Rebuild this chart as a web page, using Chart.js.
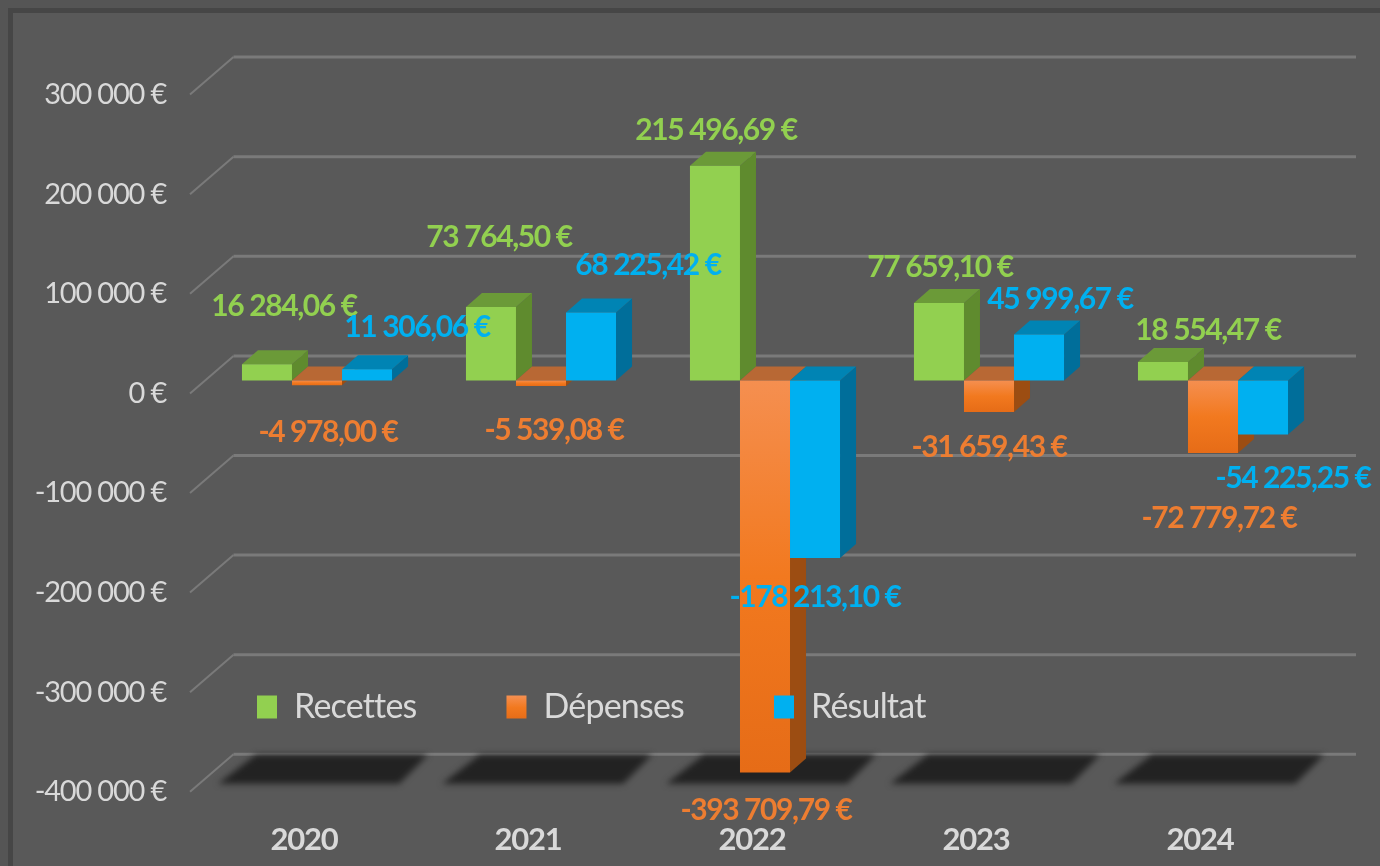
<!DOCTYPE html>
<html><head><meta charset="utf-8">
<style>html,body{margin:0;padding:0;background:#595959;overflow:hidden}canvas{display:block;filter:blur(0.6px)}</style>
<script src="https://cdn.jsdelivr.net/npm/chart.js@4"></script>
</head><body>
<canvas id="c" width="1380" height="866"></canvas>
<script>
const years = ['2020','2021','2022','2023','2024'];
const recettes = [16284.06, 73764.50, 215496.69, 77659.10, 18554.47];
const depenses = [-4978.00, -5539.08, -393709.79, -31659.43, -72779.72];
const resultat = [11306.06, 68225.42, -178213.10, 45999.67, -54225.25];
const seriesNames = ['Recettes','Dépenses','Résultat'];

// label placement relative to the bar tip
const labelNudge = [
  [[17,-58],[8,-70],[1,-35],[1,-36],[45,-32]],
  [[11,47],[13,44],[1,38],[0,35],[6,65]],
  [[50,-42],[57,-47],[0,39],[21,-35],[30,44]]
];
const FONT = 'Lato, "Open Sans", sans-serif';
const TXT = '#d9d9d9';
const front = ['#92d050','#ed7d31','#00b0f0'];
const topFace = ['#6b9a38','#b86834','#0084b4'];
const sideFace = ['#5f8b2e','#9c4d12','#006e9a'];
const DX = 16, DY = -14;

function euro(v, dec){
  const neg = v < 0; const a = Math.abs(v);
  const s = dec ? a.toFixed(2) : String(Math.round(a));
  const [i, d] = s.split('.');
  const g = i.replace(/\B(?=(\d{3})+(?!\d))/g, ' ');
  return (neg ? '-' : '') + g + (d ? ',' + d : '') + ' €';
}
function orangeGrad(ctx, y0, y1){
  const g = ctx.createLinearGradient(0, y0, 0, y1);
  g.addColorStop(0, '#f58f50'); g.addColorStop(0.5, '#f2791f'); g.addColorStop(1, '#e66c17');
  return g;
}
function poly(ctx, pts, col){
  ctx.fillStyle = col; ctx.beginPath();
  pts.forEach((p,i)=> i ? ctx.lineTo(p[0],p[1]) : ctx.moveTo(p[0],p[1]));
  ctx.closePath(); ctx.fill();
}

const LEG_X = 257, LEG_Y = 690;
const scene = {
  id: 'scene',
  beforeLayout(chart){
    const l = chart.legend;
    if (!l._fitWrapped) {
      const f = l.fit;
      l.fit = function(){ f.call(this); this.height = 0; };
      l._fitWrapped = true;
    }
    l._layers = () => [{ z: 1, draw(){
      const o = {left:l.left,right:l.right,top:l.top,bottom:l.bottom};
      l.left = LEG_X - l.options.labels.padding; l.right = 1380; l.top = LEG_Y - l.options.labels.padding; l.bottom = 866;
      chart.ctx.letterSpacing = '-0.8px';
      l.draw();
      chart.ctx.letterSpacing = '-1.2px';
      Object.assign(l,o);
    }}];
  },
  beforeDraw(chart){
    const c = chart.ctx;
    c.save();
    c.fillStyle = '#595959'; c.fillRect(0,0,1380,866);
    c.fillStyle = '#555555'; c.fillRect(0,0,1380,8); c.fillRect(0,0,8,866);
    c.fillStyle = '#464646'; c.fillRect(8,8,1372,5); c.fillRect(8,8,5,858);
    c.restore();
    c.letterSpacing = '-1.2px';
  },
  beforeDatasetsDraw(chart){
    const c = chart.ctx, y = chart.scales.y, x = chart.scales.x;
    c.save();
    // back wall and left wall grid, from the value axis
    y.ticks.forEach(t => {
      const py = y.getPixelForValue(t.value);
      c.strokeStyle = '#7a7a7a'; c.lineWidth = 3;
      c.beginPath(); c.moveTo(233.5, py-24.5); c.lineTo(1356, py-24.5); c.stroke();
      c.lineWidth = 2;
      c.beginPath(); c.moveTo(190, py+13); c.lineTo(233.5, py-24.5); c.stroke();
    });
    // floor shadows
    c.filter = 'blur(3px)';
    years.forEach((_,i) => {
      const cx = x.getPixelForValue(i), b = y.getPixelForValue(y.min);
      poly(c, [[cx-61,b-24],[cx+111,b-24],[cx+82,b+5],[cx-99,b+5]], '#222222');
    });
    c.filter = 'none';
    // depth faces
    chart.data.datasets.forEach((ds,di) => {
      chart.getDatasetMeta(di).data.forEach(b => {
        const p = b.getProps(['x','y','base','width'], true);
        const l = p.x - p.width/2, r = p.x + p.width/2;
        const t = Math.min(p.y,p.base), bt = Math.max(p.y,p.base);
        poly(c, [[r,t],[r+DX,t+DY],[r+DX,bt+DY],[r,bt]], sideFace[di]);
        poly(c, [[l,t],[l+DX,t+DY],[r+DX,t+DY],[r,t]], topFace[di]);
      });
    });
    c.restore();
  },
  afterDraw(chart){
    const c = chart.ctx;
    c.save();
    c.font = 'bold 30px ' + FONT; c.textAlign = 'center'; c.textBaseline = 'middle';
    c.letterSpacing = '-1.4px';
    chart.data.datasets.forEach((ds,di) => {
      chart.getDatasetMeta(di).data.forEach((b,i) => {
        const p = b.getProps(['x','y'], true);
        c.fillStyle = front[di];
        c.fillText(euro(ds.data[i], true), p.x + labelNudge[di][i][0], p.y + labelNudge[di][i][1]);
      });
    });
    c.restore();
  }
};

new Chart(document.getElementById('c'), {
  type: 'bar',
  data: { labels: years, datasets: [
    { label: seriesNames[0], data: recettes, backgroundColor: front[0] },
    { label: seriesNames[1], data: depenses,
      backgroundColor: ctx => {
        if (ctx.dataIndex === undefined) return front[1];
        const y = ctx.chart.scales.y;
        const y0 = y.getPixelForValue(0), y1 = y.getPixelForValue(depenses[ctx.dataIndex]);
        if (!Number.isFinite(y0) || !Number.isFinite(y1)) return front[1];
        return orangeGrad(ctx.chart.ctx, y0, y1);
      } },
    { label: seriesNames[2], data: resultat, backgroundColor: front[2] }
  ]},
  options: {
    responsive: false, animation: false,
    layout: { padding: { top: 81.6, right: 55, left: 0, bottom: 0 } },
    datasets: { bar: { categoryPercentage: 0.67, barPercentage: 1, borderWidth: 0 } },
    plugins: {
      tooltip: { enabled: false },
      legend: { display: true, position: 'top', align: 'start',
        labels: { boxWidth: 20, boxHeight: 23, padding: 90, color: TXT,
          font: { family: FONT, size: 34 },
          generateLabels(chart){
            const items = Chart.defaults.plugins.legend.labels.generateLabels(chart);
            items[1].fillStyle = orangeGrad(chart.ctx, 696, 719);
            return items;
          } } }
    },
    scales: {
      x: { grid: { display: false, drawTicks: false }, border: { display: false },
        ticks: { color: TXT, font: { family: FONT, size: 31, weight: 'bold' }, padding: 43, labelOffset: -13, maxRotation: 0 },
        afterFit(s){ s.height = 87.2; } },
      y: { min: -400000, max: 300000, grid: { display: false, drawTicks: false }, border: { display: false },
        ticks: { stepSize: 100000, color: TXT, font: { family: FONT, size: 29 }, padding: 39, labelOffset: 13,
          callback: v => euro(v, false) },
        afterFit(s){ s.width = 205; } }
    }
  },
  plugins: [scene]
});
</script>
</body></html>
